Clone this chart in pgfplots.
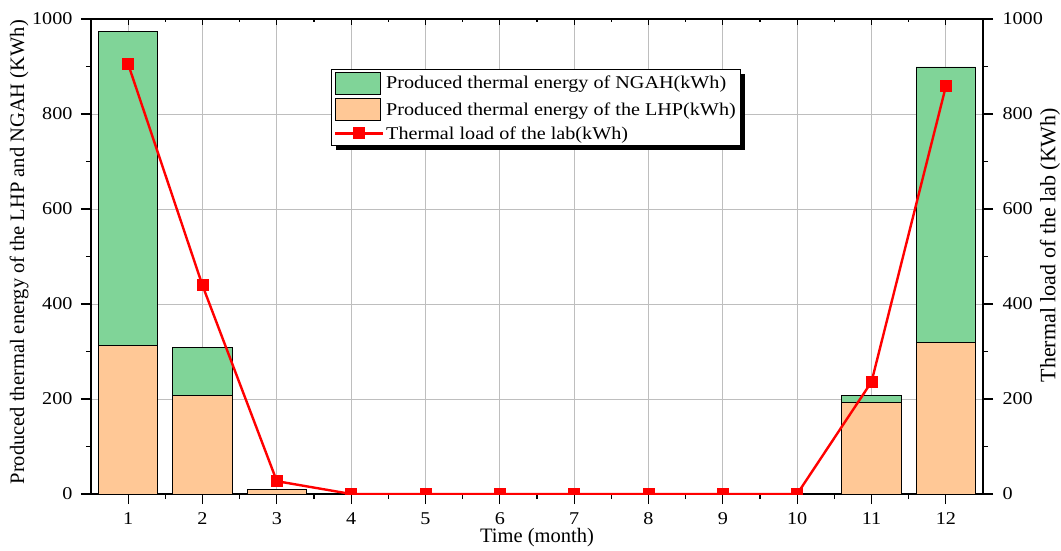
\documentclass[border=0pt]{standalone}
\usepackage{fontspec}
\setmainfont{Liberation Serif}
\newfontfamily\tickfont{Liberation Serif}[FakeStretch=1.12]
\usepackage{pgfplots}
\usepackage{pgfplotstable}
\pgfplotsset{compat=1.18}
\usetikzlibrary{shadows}

\definecolor{ngah}{RGB}{128,212,152}
\definecolor{lhp}{RGB}{255,200,150}
\definecolor{gridgray}{RGB}{190,190,190}

% keep the legend frame's shadow off the small pictures inside the legend
\makeatletter
\tikzset{noshadow/.code={\let\tikz@preactions\pgfutil@empty}}
\makeatother

% monthly heat produced by the LHP and the NGAH (kWh)
\pgfplotstableread{
month lhp ngah
1  312 661
2  208 100
3  9   0
11 192 16
12 320 579
}\bars

% monthly thermal load of the lab (kWh)
\pgfplotstableread{
month load
1  905
2  439
3  27
4  0
5  0
6  0
7  0
8  0
9  0
10 0
11 236
12 858
}\load

\pgfplotsset{
  common/.style={
    scale only axis, width=892pt, height=475pt,
    xmin=0.5, xmax=12.5, ymin=0, ymax=1000,
    /pgf/number format/assume math mode=true,
    /pgf/number format/1000 sep={},
    ticklabel style={font=\tickfont\fontsize{18}{20}\selectfont},
    axis line style={line width=1.1pt},
    tick style={black, line width=1.1pt},
    major tick length=10pt, minor tick length=5pt,
  },
  lineleg/.style={legend image code/.code={%
    \draw[noshadow, red, line width=2.4pt] (0pt,0pt) -- (48pt,0pt);
    \fill[noshadow, red] (19.2pt,-4.8pt) rectangle (28.8pt,4.8pt);}},
  boxleg/.style={legend image code/.code={%
    \draw[noshadow, fill=#1, draw=black, line width=0.8pt] (0pt,-11pt) rectangle (45pt,11pt);}},
}

\begin{document}
\begin{tikzpicture}
% stacked bars, left axis
\begin{axis}[common, name=main,
  ybar stacked, bar width=0.8,
  xtick={1,...,12}, minor x tick num=1,
  ytick={0,200,...,1000}, minor y tick num=1,
  xtick pos=left, ytick pos=left, tick align=outside,
  xticklabel style={yshift=-5pt},
  yticklabel style={xshift=-5pt},
  grid=major, major grid style={gridgray, line width=0.8pt},
  xlabel={Time (month)},
  xlabel style={font=\fontsize{20.5}{22}\selectfont, yshift=3pt},
  ylabel={Produced thermal energy of the LHP and NGAH (KWh)},
  every axis y label/.style={at={(axis description cs:-0.0807,0.509)},
    rotate=90, anchor=center, font=\fontsize{20.5}{22}\selectfont},
]
\addplot[fill=lhp, draw=black, line width=0.8pt] table[x=month, y=lhp]{\bars};
\addplot[fill=ngah, draw=black, line width=0.8pt] table[x=month, y=ngah]{\bars};
\end{axis}

% thermal load, right axis, and the legend
\begin{axis}[common,
  axis y line*=right, hide x axis, tick align=outside,
  ytick={0,200,...,1000}, minor y tick num=1,
  yticklabel style={xshift=6pt},
  ylabel={Thermal load of the lab (KWh)},
  every axis y label/.style={at={(axis description cs:1.0751,0.524)},
    rotate=90, anchor=center, font=\fontsize{22}{24}\selectfont},
  clip marker paths=true,
  legend cell align=left,
  legend style={at={(0.269,0.895)}, anchor=north west,
    draw=black, line width=0.8pt, fill=white,
    font=\tickfont\fontsize{18}{20}\selectfont,
    inner sep=2.5pt, row sep=3.5pt,
    drop shadow={shadow xshift=5pt, shadow yshift=-5pt, fill=black, opacity=1},
    /tikz/every even column/.append style={column sep=3pt}},
]
\addlegendimage{boxleg=ngah}
\addlegendentry{Produced thermal energy of NGAH(kWh)}
\addlegendimage{boxleg=lhp}
\addlegendentry{Produced thermal energy of the LHP(kWh)}
\addplot[red, line width=2.4pt, mark=square*, mark size=4.8pt, lineleg]
  table[x=month, y=load]{\load};
\addlegendentry{Thermal load of the lab(kWh)}
\end{axis}

% inward ticks along the top edge
\begin{axis}[common,
  axis x line*=top, hide y axis, tick align=inside,
  xtick={1,...,12}, minor x tick num=1, xticklabels={},
  major tick length=6pt, minor tick length=3pt,
]
\addplot[draw=none] coordinates {(1,0)};
\end{axis}

\pgfresetboundingbox
\path[use as bounding box] ([shift={(-91pt,-56pt)}]main.south west) rectangle ([shift={(970pt,494pt)}]main.south west);
\end{tikzpicture}
\end{document}
